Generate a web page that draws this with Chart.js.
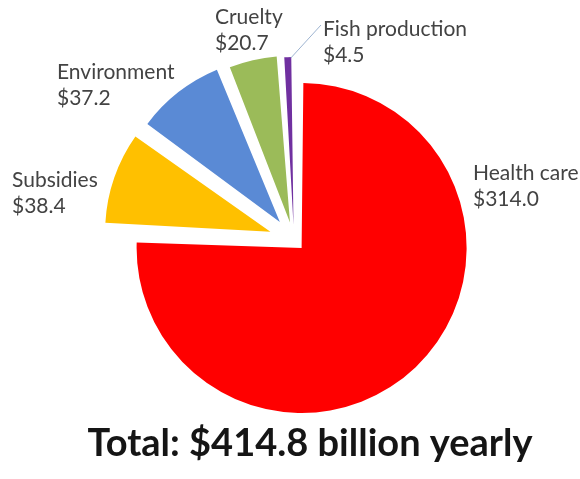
<!DOCTYPE html>
<html>
<head>
<meta charset="utf-8">
<script src="https://cdn.jsdelivr.net/npm/chart.js@4.4.1/dist/chart.umd.min.js"></script>
<style>
  html, body { margin: 0; padding: 0; background: #fff; }
</style>
</head>
<body>
<canvas id="pie" width="580" height="479"></canvas>
<script>
const categories = ["Health care", "Subsidies", "Environment", "Cruelty", "Fish production"];
const costs = [314.0, 38.4, 37.2, 20.7, 4.5];
const totalLabel = "Total: $414.8 billion yearly";

const sliceColors = ['#ff0000', '#ffc000', '#5a8ad5', '#9bbb59', '#7030a0'];
const sliceOffsets = [44, 100, 92, 72, 60];
// label position (left edge, first line middle) relative to the pie centre
const labelSpots = [[179, -67], [-282, -60], [-237, -168], [-79, -223], [29, -211]];

const sliceText = {
    id: 'sliceText',
    afterDatasetsDraw(chart) {
        const { ctx, chartArea } = chart;
        const cx = (chartArea.left + chartArea.right) / 2;
        const cy = (chartArea.top + chartArea.bottom) / 2;
        const arcs = chart.getDatasetMeta(0).data;

        ctx.save();
        ctx.font = '21px Lato';
        ctx.fillStyle = '#434343';
        ctx.textBaseline = 'middle';
        ctx.textAlign = 'left';
        categories.forEach((name, i) => {
            const [dx, dy] = labelSpots[i];
            ctx.fillText(name, cx + dx, cy + dy);
            ctx.fillText('$' + costs[i].toFixed(1), cx + dx, cy + dy + 26);
        });

        // leader line from the thin purple slice to its label
        const fish = arcs[4];
        const mid = (fish.startAngle + fish.endAngle) / 2;
        const reach = fish.outerRadius + sliceOffsets[4] / 2;
        ctx.strokeStyle = '#9db3d0';
        ctx.lineWidth = 1;
        ctx.beginPath();
        ctx.moveTo(fish.x + Math.cos(mid) * reach + 3, fish.y + Math.sin(mid) * reach + 2);
        ctx.lineTo(cx + labelSpots[4][0] - 2, cy + labelSpots[4][1] - 4);
        ctx.stroke();

        ctx.font = 'bold 38px Lato';
        ctx.fillStyle = '#151515';
        ctx.textAlign = 'center';
        ctx.textBaseline = 'alphabetic';
        ctx.fillText(totalLabel, 310, 456);
        ctx.restore();
    }
};

new Chart(document.getElementById('pie'), {
    type: 'pie',
    data: {
        labels: categories,
        datasets: [{
            data: costs,
            backgroundColor: sliceColors,
            offset: sliceOffsets,
            borderWidth: 0,
            radius: 154
        }]
    },
    options: {
        responsive: false,
        animation: false,
        layout: { padding: { left: 8, right: 0, top: 1, bottom: 0 } },
        plugins: {
            legend: { display: false },
            tooltip: { enabled: false }
        }
    },
    plugins: [sliceText]
});
</script>
</body>
</html>
